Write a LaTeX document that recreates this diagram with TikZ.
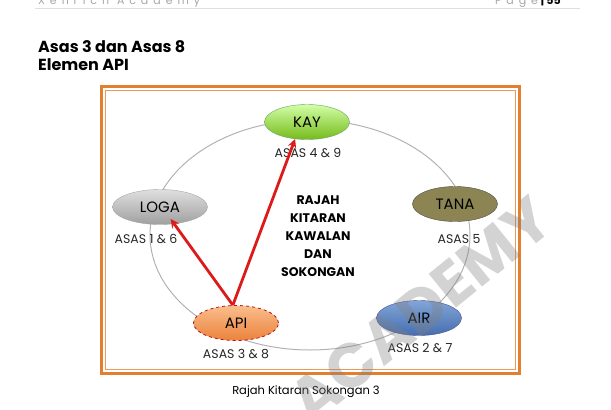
\documentclass[tikz,border=0pt]{standalone}
\usepackage{fontspec}
\setmainfont{Poppins}
\newfontfamily\spacedfont[LetterSpace=45]{Poppins}
\usepackage{xcolor}
\usetikzlibrary{shapes.geometric, arrows}
\definecolor{bingkai}{HTML}{E2802F}
\definecolor{merah}{HTML}{DD1A1A}
\tikzstyle{unsur} = [ellipse, minimum width=85pt, minimum height=35pt, inner sep=1pt, text centered, font=\fontsize{15}{16}\selectfont]
\tikzstyle{asas} = [font=\fontsize{12.5}{13}\selectfont, text=black!85]
\tikzstyle{arrow} = [line width=2.8pt,->,>=stealth, draw=merah]

\begin{document}
\begin{tikzpicture}[x=1pt,y=-1pt]
\useasboundingbox (0,0) rectangle (611,410);
% header
\draw[gray!25, line width=1pt] (35,8) -- (580,8);
\node[anchor=base west, inner sep=0, text=gray!70, font=\spacedfont\fontsize{11}{12}\selectfont] (kepala) at (38,4) {Xenrich Academy};
\node[anchor=base east, inner sep=0, font=\fontsize{11}{12}\selectfont] (muka) at (561,4) {{\spacedfont\color{gray!70}Page} \textbf{| 55}};
% tajuk
\node[anchor=base west, inner sep=0, font=\bfseries\fontsize{16}{17}\selectfont] (tajuk) at (38,52) {Asas 3 dan Asas 8};
\node[anchor=base west, inner sep=0, font=\bfseries\fontsize{16}{17}\selectfont] (subtajuk) at (38,70) {Elemen API};
% bingkai
\draw[bingkai, line width=3pt] (101,86) rectangle (519,373);
\draw[bingkai!80, line width=0.9pt] (105,90) rectangle (515,369);
% kitaran
\draw[gray!60, line width=1pt] (310,235) ellipse [x radius=160, y radius=115];
\node[unsur, draw=green!40!black!60, top color=green!50!yellow!35, bottom color=green!50!black!60!yellow!90] (kay) at (307,122) {KAY};
\node[unsur, minimum width=95pt, draw=gray!70, top color=gray!25, bottom color=gray!75] (loga) at (160,207) {LOGA};
\node[unsur, draw=black!70, fill={rgb,255:red,140;green,132;blue,82}] (tana) at (455,204) {TANA};
\node[unsur, draw=blue!40!black!70, top color={rgb,255:red,130;green,165;blue,215}, bottom color={rgb,255:red,70;green,110;blue,175}] (air) at (419,318) {AIR};
\node[unsur, draw=merah!80!black, dashed, line width=0.8pt, top color={rgb,255:red,250;green,190;blue,140}, bottom color={rgb,255:red,235;green,130;blue,60}] (api) at (236,323) {API};
\node[asas] (asaskay) at (308,153) {ASAS 4 \& 9};
\node[asas] (asasloga) at (146,239) {ASAS 1 \& 6};
\node[asas] (asastana) at (459,239) {ASAS 5};
\node[asas] (asasair) at (420,348) {ASAS 2 \& 7};
\node[asas] (asasapi) at (236,354) {ASAS 3 \& 8};
\node[align=center, font=\bfseries\fontsize{12.5}{18}\selectfont] (rajah) at (318,236) {RAJAH\\KITARAN\\KAWALAN\\DAN\\SOKONGAN};
% anak panah
\draw[arrow] (api.100) -- (kay.235);
\draw[arrow, shorten >=-6pt] (api.100) -- (loga.310);
% kapsyen
\node[font=\fontsize{11.5}{13}\selectfont] (kapsyen) at (306,392) {Rajah Kitaran Sokongan 3};
% tera air
\node[rotate=39, text=gray, opacity=0.35, font=\bfseries\fontsize{62}{62}\selectfont] (tera) at (420,310) {ACADEMY};
\end{tikzpicture}
\end{document}
